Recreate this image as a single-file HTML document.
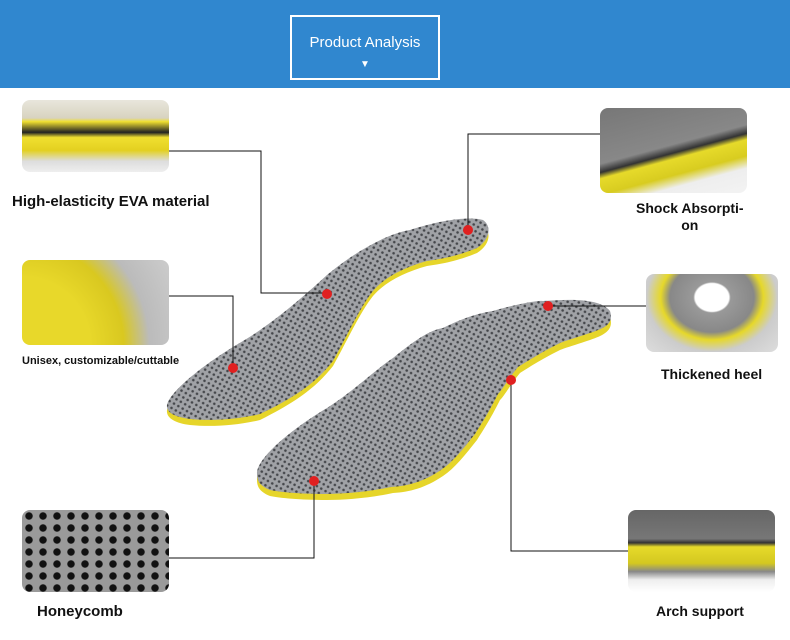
<!DOCTYPE html>
<html><head><style>
body{margin:0;width:790px;height:640px;background:#fff;position:relative;overflow:hidden;font-family:"Liberation Sans",sans-serif}
.hdr{position:absolute;left:0;top:0;width:790px;height:88px;background:#3087cf}
.box{position:absolute;left:290px;top:15px;width:146px;height:61px;border:2px solid #fff;color:#fff;text-align:center;font-size:15px}
.lbl{position:absolute;font-weight:bold;color:#111;font-size:15px}
.th{position:absolute;border-radius:8px;overflow:hidden}
</style></head><body>
<div class="hdr"></div>
<div class="box"><div style="margin-top:17px">Product Analysis</div><div style="font-size:10px;margin-top:8px">▼</div></div>

<div class="th" style="left:22px;top:100px;width:147px;height:72px;background:linear-gradient(#e8e6dc 0,#d8d3c0 25%,#f0e030 30%,#222 45%,#f0e030 52%,#e3d020 70%,#ddd 85%,#eee 100%)"></div>
<div class="th" style="left:22px;top:260px;width:147px;height:85px;background:radial-gradient(circle at 0% 100%,#e8d82a 0,#e8d82a 40%,#d9c820 60%,#bbb 75%,#ccc 100%)"></div>
<div class="th" style="left:22px;top:510px;width:147px;height:82px;background:radial-gradient(circle,#111 35%,#9a9a9a 45%) 0 0/14px 12px"></div>
<div class="th" style="left:600px;top:108px;width:147px;height:85px;background:linear-gradient(165deg,#777 0,#888 45%,#333 52%,#e6da2a 57%,#d8cc20 70%,#eee 80%,#f3f3f3 100%)"></div>
<div class="th" style="left:646px;top:274px;width:132px;height:78px;background:radial-gradient(ellipse at 50% 30%,#fff 0,#fff 18%,#999 20%,#888 45%,#e6d82a 55%,#ccc 70%,#ddd 100%)"></div>
<div class="th" style="left:628px;top:510px;width:147px;height:82px;background:linear-gradient(#666 0,#777 35%,#333 40%,#e6da2a 45%,#d4c820 65%,#888 75%,#eee 85%,#fff 100%)"></div>

<svg width="790" height="640" style="position:absolute;left:0;top:0">
<defs><pattern id="m" width="5" height="5" patternUnits="userSpaceOnUse" patternTransform="rotate(30)"><rect width="5" height="5" fill="#a0a2a6"/><circle cx="2.5" cy="2.5" r="1.3" fill="#45474b"/></pattern></defs>
<path d="M167,410 C170,395 210,365 243,346 C270,330 300,305 327,280 C345,265 380,240 410,236 C440,226 470,220 483,226 C492,232 490,245 477,253 C455,262 440,264 427,266 C405,272 385,282 373,296 C360,312 345,345 333,366 C318,385 300,400 260,420 C235,426 210,427 190,425 C175,423 166,418 167,410Z" fill="#e6d52a"/>
<path d="M167,405 C170,390 210,360 243,341 C270,325 300,300 327,275 C345,260 380,235 410,230 C440,220 470,216 483,220 C492,226 490,240 477,248 C455,257 440,259 427,261 C405,267 385,277 373,291 C360,307 345,340 333,361 C318,380 300,395 260,414 C235,420 210,421 190,419 C175,417 166,413 167,405Z" fill="url(#m)"/>
<path d="M257,480 C256,465 290,435 327,413 C355,395 375,375 393,363 C415,345 430,335 443,333 C465,322 480,318 493,316 C520,308 540,305 543,306 C570,305 600,304 610,317 C614,330 605,335 590,340 C575,345 565,348 560,350 C540,360 528,368 520,373 C510,385 505,395 500,400 C490,420 482,432 477,440 C465,455 455,468 443,476 C425,488 410,492 393,493 C370,498 345,500 327,500 C300,500 280,498 270,496 C260,492 257,487 257,480Z" fill="#e6d52a"/>
<path d="M257,474 C256,459 290,430 327,408 C355,390 375,370 393,358 C415,340 430,330 443,328 C465,317 480,313 493,311 C520,303 540,300 543,301 C570,299 600,298 610,311 C614,324 605,328 590,333 C575,338 565,341 560,343 C540,353 528,361 518,367 C508,379 503,389 498,394 C488,414 480,426 475,434 C463,449 453,462 441,470 C423,482 408,486 391,487 C368,492 343,494 325,494 C298,494 280,492 270,490 C260,486 257,481 257,474Z" fill="url(#m)"/>
<g stroke="#111" stroke-width="1" fill="none">
<polyline points="169,151 261,151 261,293 327,293"/>
<polyline points="169,296 233,296 233,368"/>
<polyline points="169,558 314,558 314,481"/>
<polyline points="468,231 468,134 600,134"/>
<polyline points="548,306 646,306"/>
<polyline points="511,380 511,551 628,551"/>
</g>
<g fill="#e02020"><circle cx="327" cy="294" r="5"/><circle cx="233" cy="368" r="5"/><circle cx="314" cy="481" r="5"/><circle cx="468" cy="230" r="5"/><circle cx="548" cy="306" r="5"/><circle cx="511" cy="380" r="5"/></g>
</svg>

<div class="lbl" style="left:12px;top:193px">High-elasticity EVA material</div>
<div class="lbl" style="left:22px;top:355px;font-size:11px">Unisex, customizable/cuttable</div>
<div class="lbl" style="left:37px;top:603px">Honeycomb</div>
<div class="lbl" style="left:636px;top:200px;font-size:14px;text-align:center;line-height:17px">Shock Absorpti-<br>on</div>
<div class="lbl" style="left:661px;top:366px;font-size:14px">Thickened heel</div>
<div class="lbl" style="left:656px;top:603px;font-size:14px">Arch support</div>
</body></html>
